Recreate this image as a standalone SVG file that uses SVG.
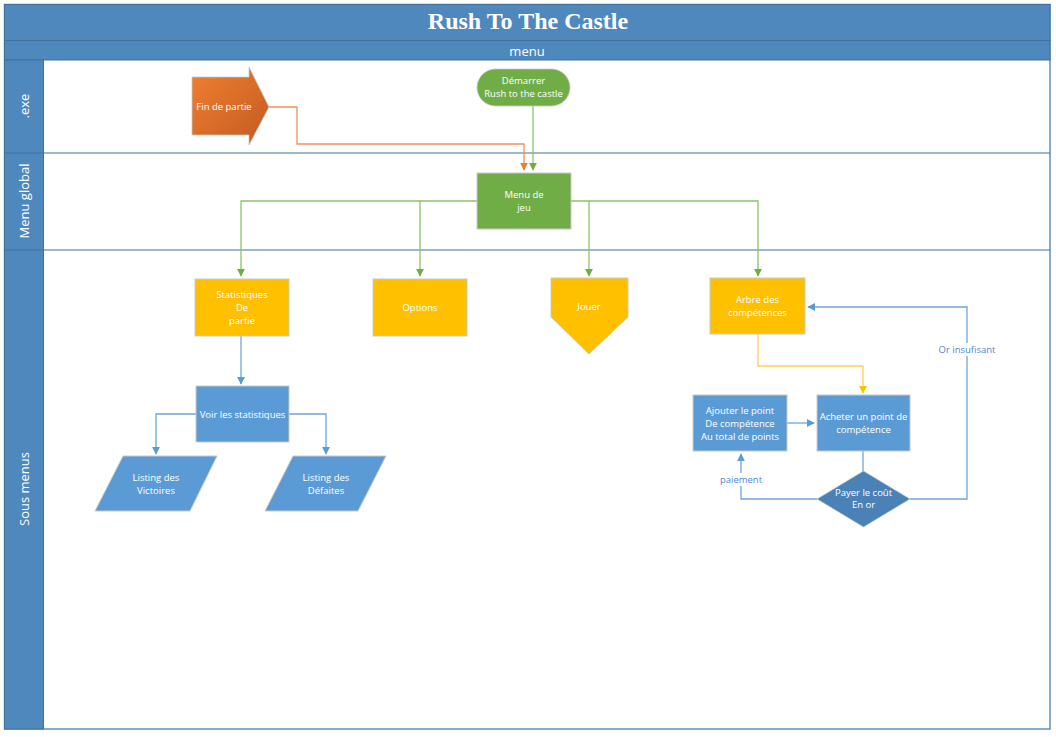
<svg xmlns="http://www.w3.org/2000/svg" width="1056" height="737" viewBox="0 0 1056 737">
<defs>
<style>
.lbl{font-family:"Open Sans","Noto Sans",sans-serif;font-size:9.5px;fill:#ffffff;text-anchor:middle}
.lane{font-family:"Open Sans","Noto Sans",sans-serif;font-size:13px;fill:#ffffff;text-anchor:middle}
.cl{font-family:"Open Sans","Noto Sans",sans-serif;font-size:9.5px;fill:#4f88c6;text-anchor:middle}
.g{fill:none;stroke:#8dc26a;stroke-width:1.3}
.b{fill:none;stroke:#6fa6dc;stroke-width:1.3}
.y{fill:none;stroke:#ffcf4d;stroke-width:1.3}
.o{fill:none;stroke:#f0915a;stroke-width:1.3}
.box{stroke:#c9c9c9;stroke-width:1}
</style>
<marker id="ag" viewBox="0 0 10 10" refX="9" refY="5" markerWidth="8" markerHeight="8" orient="auto" markerUnits="userSpaceOnUse"><path d="M0,0L10,5L0,10z" fill="#70ad47"/></marker>
<marker id="ab" viewBox="0 0 10 10" refX="9" refY="5" markerWidth="8" markerHeight="8" orient="auto" markerUnits="userSpaceOnUse"><path d="M0,0L10,5L0,10z" fill="#5b9bd5"/></marker>
<marker id="ay" viewBox="0 0 10 10" refX="9" refY="5" markerWidth="8" markerHeight="8" orient="auto" markerUnits="userSpaceOnUse"><path d="M0,0L10,5L0,10z" fill="#ffc000"/></marker>
<marker id="ao" viewBox="0 0 10 10" refX="9" refY="5" markerWidth="8" markerHeight="8" orient="auto" markerUnits="userSpaceOnUse"><path d="M0,0L10,5L0,10z" fill="#ed7d31"/></marker>
<linearGradient id="og" x1="0" y1="0" x2="1" y2="1"><stop offset="0" stop-color="#f08030"/><stop offset="1" stop-color="#c25a22"/></linearGradient>
</defs>
<rect width="1056" height="737" fill="#ffffff"/>
<g id="pool">
<rect x="4.5" y="4.5" width="1045.5" height="724.5" fill="#ffffff" stroke="#5f8fbb" stroke-width="1.5"/>
<rect x="4.5" y="4.5" width="1045.5" height="36" fill="#4f88bc" stroke="#41719c" stroke-width="1"/>
<text x="528" y="29" font-family="Liberation Serif,serif" font-weight="bold" font-size="24" fill="#ffffff" text-anchor="middle">Rush To The Castle</text>
<rect x="4.5" y="40.5" width="1045.5" height="19.5" fill="#4f88bc" stroke="#41719c" stroke-width="1"/>
<text x="527" y="55.5" class="lane" font-size="14">menu</text>
<rect x="4.5" y="60" width="39" height="669" fill="#4f88bc" stroke="#41719c" stroke-width="1"/>
<line x1="4.5" y1="153" x2="1050" y2="153" stroke="#41719c" stroke-width="1.2"/>
<line x1="4.5" y1="250" x2="1050" y2="250" stroke="#41719c" stroke-width="1.2"/>
<text class="lane" transform="translate(29 106) rotate(-90)">.exe</text>
<text class="lane" transform="translate(29 201) rotate(-90)">Menu global</text>
<text class="lane" transform="translate(29 489) rotate(-90)">Sous menus</text>
</g>
<g id="connectors">
<path class="o" d="M269,107H297V144H524V170" marker-end="url(#ao)"/>
<path class="g" d="M533,106V170" marker-end="url(#ag)"/>
<path class="g" d="M477,201H241V276" marker-end="url(#ag)"/>
<path class="g" d="M420,201V276" marker-end="url(#ag)"/>
<path class="g" d="M571,201H758V276" marker-end="url(#ag)"/>
<path class="g" d="M589,201V276" marker-end="url(#ag)"/>
<path class="b" d="M241,336V384" marker-end="url(#ab)"/>
<path class="b" d="M196,414H156V454" marker-end="url(#ab)"/>
<path class="b" d="M289,414H326V454" marker-end="url(#ab)"/>
<path class="y" d="M758,334V366H863V393" marker-end="url(#ay)"/>
<path class="b" d="M787,423H814" marker-end="url(#ab)"/>
<path class="b" d="M863,451V471"/>
<path class="b" d="M817,499H741V454" marker-end="url(#ab)"/>
<path class="b" d="M910,499H967V307H808" marker-end="url(#ab)"/>
<rect x="718" y="473" width="46" height="13" fill="#ffffff"/>
<text x="741" y="483" class="cl">paiement</text>
<rect x="937" y="343" width="60" height="13" fill="#ffffff"/>
<text x="967" y="353" class="cl">Or insufisant</text>
</g>
<g id="fin-de-partie">
<path d="M192,77H249V67L269,107L249,145V135H192Z" fill="url(#og)" stroke="#c9c9c9" stroke-width="0.8"/>
<text x="224" y="110" class="lbl">Fin de partie</text>
</g>
<g id="demarrer">
<rect x="477" y="69" width="93" height="37" rx="18.5" fill="#70ad47" stroke="#c9c9c9" stroke-width="0.8"/>
<text x="523.5" y="84" class="lbl">Démarrer</text>
<text x="523.5" y="97" class="lbl">Rush to the castle</text>
</g>
<g id="menu-de-jeu">
<rect x="477" y="173" width="94" height="56" fill="#70ad47" class="box"/>
<text x="524" y="198" class="lbl">Menu de</text>
<text x="524" y="211" class="lbl">jeu</text>
</g>
<g id="statistiques">
<rect x="195" y="279" width="94" height="57" fill="#ffc000" class="box"/>
<text x="242" y="298" class="lbl">Statistiques</text>
<text x="242" y="311" class="lbl">De</text>
<text x="242" y="324" class="lbl">partie</text>
</g>
<g id="options">
<rect x="373" y="279" width="94" height="57" fill="#ffc000" class="box"/>
<text x="420" y="311" class="lbl">Options</text>
</g>
<g id="jouer">
<path d="M551,278H628V317L589,354L551,317Z" fill="#ffc000" class="box"/>
<text x="589" y="310" class="lbl">Jouer</text>
</g>
<g id="arbre">
<rect x="710" y="278" width="95" height="56" fill="#ffc000" class="box"/>
<text x="757.5" y="303" class="lbl">Arbre des</text>
<text x="757.5" y="316" class="lbl">compétences</text>
</g>
<g id="voir-stats">
<rect x="196" y="386" width="93" height="56" fill="#5b9bd5" class="box"/>
<text x="242.5" y="418" class="lbl">Voir les statistiques</text>
</g>
<g id="listing-victoires">
<path d="M123,456H217L190,511H95Z" fill="#5b9bd5" class="box"/>
<text x="156" y="481" class="lbl">Listing des</text>
<text x="156" y="494" class="lbl">Victoires</text>
</g>
<g id="listing-defaites">
<path d="M293,456H386L358,511H265Z" fill="#5b9bd5" class="box"/>
<text x="326" y="481" class="lbl">Listing des</text>
<text x="326" y="494" class="lbl">Défaites</text>
</g>
<g id="ajouter">
<rect x="693" y="395" width="94" height="56" fill="#5b9bd5" class="box"/>
<text x="740" y="414" class="lbl">Ajouter le point</text>
<text x="740" y="427" class="lbl">De compétence</text>
<text x="740" y="440" class="lbl">Au total de points</text>
</g>
<g id="acheter">
<rect x="817" y="395" width="93" height="56" fill="#5b9bd5" class="box"/>
<text x="863.5" y="420" class="lbl">Acheter un point de</text>
<text x="863.5" y="433" class="lbl">compétence</text>
</g>
<g id="payer">
<path d="M863.5,471L910,499L863.5,527L817,499Z" fill="#4a82b8" stroke="#c9c9c9" stroke-width="0.6"/>
<text x="863.5" y="496" class="lbl">Payer le coût</text>
<text x="863.5" y="508" class="lbl">En or</text>
</g>
</svg>
